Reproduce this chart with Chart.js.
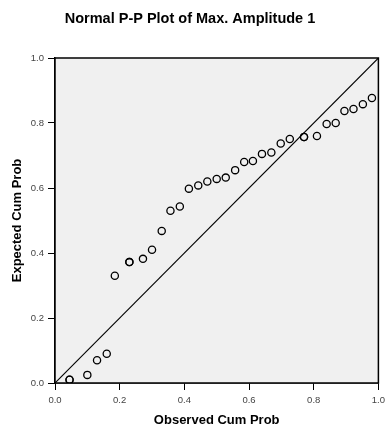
<!DOCTYPE html>
<html>
<head>
<meta charset="utf-8">
<script src="https://cdn.jsdelivr.net/npm/chart.js@4.4.1/dist/chart.umd.min.js"></script>
<style>
  html, body { margin: 0; padding: 0; background: #fff; }
</style>
</head>
<body>
<canvas id="ppChart" width="390" height="428"></canvas>
<script>
const chartTitle = 'Normal P-P Plot of Max. Amplitude 1';
const xTitle = 'Observed Cum Prob';
const yTitle = 'Expected Cum Prob';

// observed vs expected cumulative probability
const observed = [0.045, 0.045, 0.10, 0.13, 0.16, 0.185, 0.23, 0.23, 0.272, 0.30, 0.33, 0.357,
  0.386, 0.414, 0.443, 0.471, 0.50, 0.528, 0.557, 0.585, 0.612, 0.64, 0.669, 0.698, 0.726,
  0.77, 0.77, 0.81, 0.84, 0.868, 0.895, 0.923, 0.952, 0.98];
const expected = [0.01, 0.01, 0.025, 0.07, 0.09, 0.33, 0.372, 0.372, 0.382, 0.41, 0.468, 0.53,
  0.543, 0.598, 0.608, 0.62, 0.628, 0.632, 0.655, 0.68, 0.683, 0.705, 0.709, 0.737, 0.751,
  0.757, 0.757, 0.76, 0.797, 0.80, 0.837, 0.843, 0.858, 0.877];
const refLine = [0, 1];
const tickValues = [0, 0.2, 0.4, 0.6, 0.8, 1.0];

const FONT = 'Arial, "Liberation Sans", sans-serif';

// grey plot area plus top/right frame
const plotFrame = {
  id: 'plotFrame',
  beforeDatasetsDraw(chart) {
    const { ctx, chartArea: a } = chart;
    ctx.save();
    ctx.fillStyle = '#f0f0f0';
    ctx.fillRect(a.left, a.top, a.right - a.left, a.bottom - a.top);
    ctx.restore();
  },
  afterDraw(chart) {
    const { ctx, chartArea: a } = chart;
    ctx.save();
    ctx.strokeStyle = '#000';
    ctx.lineWidth = 1.5;
    ctx.strokeRect(a.left, a.top, a.right - a.left, a.bottom - a.top);
    ctx.restore();
  }
};

const axisCommon = {
  type: 'linear',
  min: 0,
  max: 1,
  afterBuildTicks: s => { s.ticks = tickValues.map(v => ({ value: v })); },
  grid: { drawOnChartArea: false, drawTicks: true, tickLength: 7, color: '#000', lineWidth: 1 },
  border: { display: true, color: '#000', width: 1.5 },
  ticks: { color: '#444', font: { family: FONT, size: 9.5 }, callback: v => Number(v).toFixed(1) }
};

const axisTitleFont = { family: FONT, size: 13, weight: 'bold' };

new Chart(document.getElementById('ppChart'), {
  type: 'scatter',
  data: {
    datasets: [
      {
        label: 'points',
        data: observed.map((x, i) => ({ x, y: expected[i] })),
        pointStyle: 'circle',
        pointRadius: 3.6,
        pointBorderWidth: 1.3,
        pointBorderColor: '#000',
        pointBackgroundColor: 'rgba(0,0,0,0)',
        showLine: false
      },
      {
        label: 'ref',
        type: 'line',
        data: refLine.map(v => ({ x: v, y: v })),
        borderColor: '#000',
        borderWidth: 1.1,
        pointRadius: 0,
        fill: false
      }
    ]
  },
  options: {
    responsive: false,
    animation: false,
    layout: { padding: { left: 0, right: 10, top: 0, bottom: 0 } },
    plugins: {
      legend: { display: false },
      tooltip: { enabled: false },
      title: {
        display: true,
        text: chartTitle,
        color: '#000',
        font: { family: FONT, size: 14.5, weight: 'bold' },
        padding: { top: 10.3, bottom: 30.3 }
      }
    },
    scales: {
      x: {
        ...axisCommon,
        position: 'bottom',
        afterFit: s => { s.height = 45; },
        ticks: { ...axisCommon.ticks, padding: 5, maxRotation: 0 },
        title: { display: true, text: xTitle, color: '#000', font: axisTitleFont, padding: { top: 3, bottom: 0 } }
      },
      y: {
        ...axisCommon,
        position: 'left',
        afterFit: s => { s.width = 55; },
        ticks: { ...axisCommon.ticks, padding: 4 },
        title: { display: true, text: yTitle, color: '#000', font: axisTitleFont, padding: { top: 9.4, bottom: 0 } }
      }
    }
  },
  plugins: [plotFrame]
});
</script>
</body>
</html>
